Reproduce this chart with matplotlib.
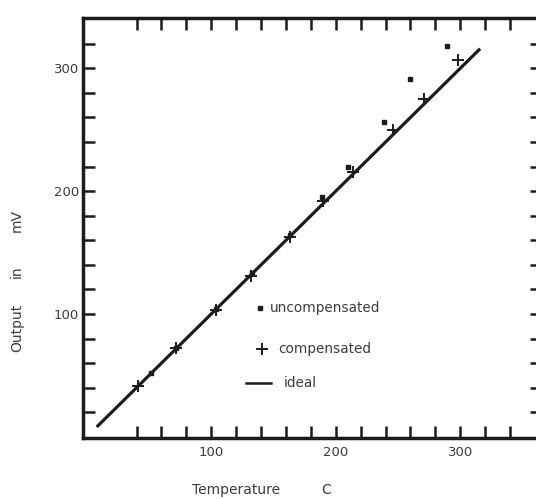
import numpy as np
import matplotlib
matplotlib.use("Agg")
import matplotlib.pyplot as plt

# readings taken off the scanned plot (temperature C, output mV)
comp_temp = [41, 72, 104, 132, 163, 190, 214, 246, 271, 298]
comp_mv = [41, 72, 103, 131, 163, 192, 216, 250, 275, 307]

uncomp_temp = [52, 72, 104, 133, 163, 189, 210, 239, 260, 289]
uncomp_mv = [52, 72, 104, 133, 164, 195, 220, 256, 291, 318]

ideal_temp = [8, 316]
ideal_mv = [8, 316]

xticks = list(range(40, 341, 20))
yticks = list(range(20, 321, 20))
labelled = [100, 200, 300]

ink = "#1c1c1c"
grey = "#3c3c3c"

fig = plt.figure(figsize=(5.36, 4.99), dpi=100)
# right edge of the frame sits just past the picture, as in the scan
ax = fig.add_axes([0.1549, 0.1222, 0.8563, 0.8417])

ax.plot(ideal_temp, ideal_mv, color=ink, lw=2.3, solid_capstyle="butt")
ax.plot(comp_temp, comp_mv, ls="none", marker="+", ms=9, mew=1.4, color=ink)
ax.plot(uncomp_temp, uncomp_mv, ls="none", marker="s", ms=3.4, color=ink)

ax.set_xlim(-3, 365.7)
ax.set_ylim(-1, 341)

ax.set_xticks(xticks)
ax.set_xticklabels([str(v) if v in labelled else "" for v in xticks])
ax.set_yticks(yticks)
ax.set_yticklabels([str(v) if v in labelled else "" for v in yticks])

ax.tick_params(axis="both", direction="in", length=8.6, width=1.8, color=ink,
               labelsize=9.5, labelcolor=grey)
ax.tick_params(axis="x", top=True, pad=6)
ax.tick_params(axis="y", right=True, pad=3)
for s in ax.spines.values():
    s.set_linewidth(2.5)
    s.set_color(ink)

# hand-drawn style key inside the plot
ax.plot([0.386], [0.310], transform=ax.transAxes, ls="none", marker="s", ms=3.4, color=ink)
ax.text(0.408, 0.310, "uncompensated", transform=ax.transAxes, va="center",
        fontsize=9.8, color=grey)
ax.plot([0.391], [0.212], transform=ax.transAxes, ls="none", marker="+", ms=9, mew=1.4, color=ink)
ax.text(0.425, 0.212, "compensated", transform=ax.transAxes, va="center",
        fontsize=9.8, color=grey)
ax.plot([0.356, 0.410], [0.131, 0.131], transform=ax.transAxes, color=ink, lw=1.8)
ax.text(0.438, 0.131, "ideal", transform=ax.transAxes, va="center",
        fontsize=9.8, color=grey)

# axis titles, spread out like the original lettering
fig.text(17 / 536, 1 - 328 / 499, "Output", rotation=90, ha="center", va="center",
         fontsize=10, color=grey)
fig.text(17 / 536, 1 - 272 / 499, "in", rotation=90, ha="center", va="center",
         fontsize=10, color=grey)
fig.text(17 / 536, 1 - 220 / 499, "mV", rotation=90, ha="center", va="center",
         fontsize=10, color=grey)
fig.text(236 / 536, 1 - 490 / 499, "Temperature", ha="center", va="center",
         fontsize=10, color=grey)
fig.text(326 / 536, 1 - 490 / 499, "C", ha="center", va="center",
         fontsize=10, color=grey)

fig.savefig("out.png", dpi=100)
